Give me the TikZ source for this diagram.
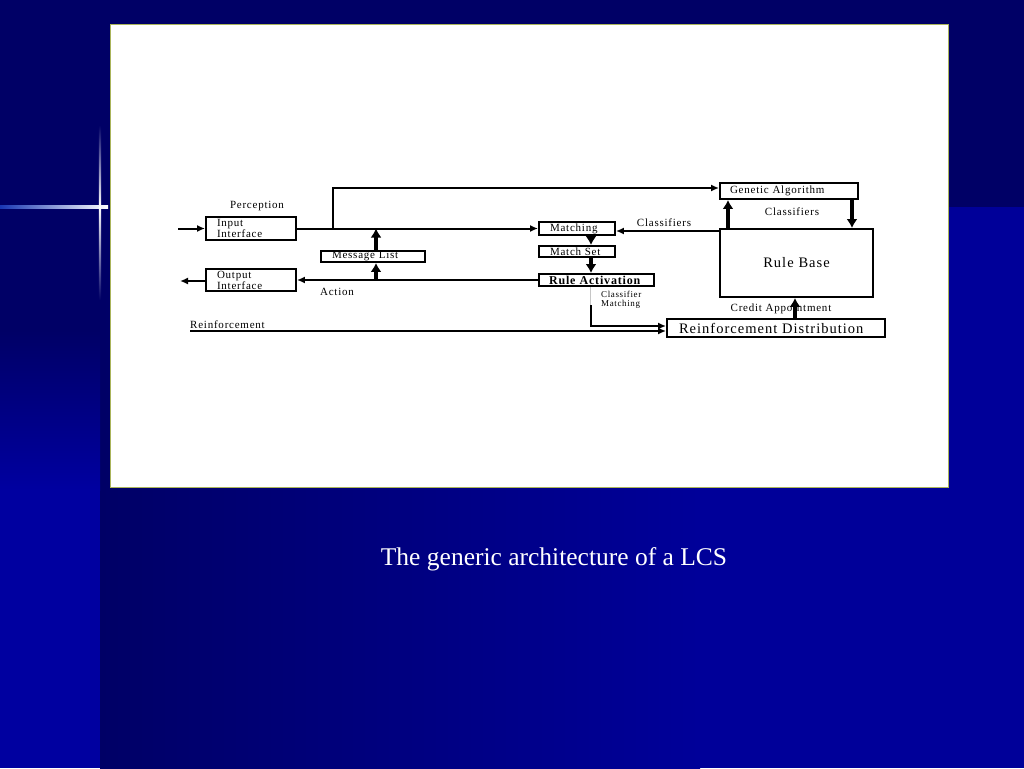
\documentclass[tikz,border=0pt]{standalone}
\usepackage{fontspec}
\setmainfont{Liberation Serif}
\newfontfamily\diag[LetterSpace=7]{Liberation Serif}
\newfontfamily\capfont{Liberation Serif}
\usetikzlibrary{arrows.meta,calc}
\definecolor{navy}{RGB}{0,0,102}
\definecolor{slideblue}{RGB}{0,0,153}
\definecolor{stripblue}{RGB}{0,0,160}
\definecolor{panelrim}{RGB}{170,180,90}
\definecolor{crossblue}{RGB}{40,90,230}
\newcommand\dfont{\diag\fontsize{11}{10}\selectfont}
\newcommand\bigdfont{\diag\fontsize{14.5}{15}\selectfont}
\tikzset{
  lbl/.style={font=\dfont, inner sep=0pt, text=black},
  box/.style n args={3}{draw, line width=1.9pt, minimum width=#1, minimum height=#2,
     text width=#3, inner xsep=11pt, inner ysep=0pt, align=left, font=\dfont},
  arr/.style={line width=2pt, -{Latex[length=8pt,width=7pt]}},
  thk/.style={line width=3.5pt, -{Latex[length=9pt,width=11pt]}},
}
\begin{document}
\begin{tikzpicture}[x=1pt,y=-1pt]
\useasboundingbox (0,0) rectangle (1024,768);
% background
\fill[navy] (0,0) rectangle (1024,768);
\shade[left color=navy, right color=slideblue] (100,207) rectangle (700,768);
\fill[slideblue] (700,207) rectangle (1024,768);
\shade[top color=navy, bottom color=stripblue] (0,330) rectangle (100,490);
\fill[stripblue] (0,490) rectangle (100,768);
% cross
\shade[left color=crossblue!60!navy, right color=white] (0,205.8) rectangle (108,208.2);
\shade[top color=navy, bottom color=white] (98.8,125) rectangle (101.2,207);
\shade[top color=white, bottom color=navy] (98.8,207) rectangle (101.2,300);
% panel
\fill[white, draw=panelrim, line width=1pt] (110,25) rectangle (948,487);

% boxes
\node[box={90pt}{23pt}{68pt}] (inp) at (251,228.5) {Input\\Interface};
\node[box={90pt}{22pt}{68pt}] (outp) at (251,280) {Output\\Interface};
\node[box={104pt}{11pt}{82pt}] (msg) at (373,256.5) {Message List};
\node[box={76pt}{13pt}{54pt}] (match) at (577,228.5) {Matching};
\node[box={76pt}{11pt}{54pt}] (mset) at (577,251.5) {Match Set};
\node[box={115pt}{12pt}{95pt}, inner xsep=10pt, font=\diag\fontsize{12}{12}\selectfont\bfseries] (ract) at (596.5,280) {Rule Activation};
\node[box={138pt}{16pt}{118pt}, inner xsep=10pt] (ga) at (789,191) {Genetic Algorithm};
\node[box={153pt}{68pt}{131pt}, align=center, font=\bigdfont] (rb) at (796.5,263) {Rule Base};
\node[box={218pt}{18pt}{194pt}, inner xsep=12pt, font=\bigdfont] (rd) at (776,328) {Reinforcement Distribution};

% labels
\node[lbl] (lperc) at (257,206) {Perception};
\node[lbl] (lact) at (337,292) {Action};
\node[lbl] (lcls1) at (664,223) {Classifiers};
\node[lbl] (lcls2) at (792,212) {Classifiers};
\node[lbl] (lcred) at (781,309) {Credit Appointment};
\node[lbl, anchor=west, font=\diag\fontsize{9}{9}\selectfont] (lcm1) at (601,294.5) {Classifier};
\node[lbl, anchor=west, font=\diag\fontsize{9}{9}\selectfont] (lcm2) at (601,304.5) {Matching};
\node[lbl, anchor=west] (lrein) at (190,325) {Reinforcement};

% coordinates
\coordinate (inL) at (178,228.5);
\coordinate (outL) at (180,281);
\coordinate (br) at (333,228.5);
\coordinate (gay) at (0,188);
\coordinate (mx) at (376,0);
\coordinate (colx) at (591,0);
\coordinate (clsy) at (0,231);
\coordinate (cm) at (591,305);
\coordinate (rdy1) at (0,326);
\coordinate (reinL) at (190,331);
\coordinate (gx1) at (728,0);
\coordinate (gx2) at (852,0);
\coordinate (rx) at (795,0);

% connectors
\draw[arr] (inL) -- (inp.west);
\draw[arr] (outp.west |- outL) -- (outL);
\draw[arr] (inp.east) -- (match.west);
\draw[arr] (br) |- (ga.west |- gay);
\draw[thk] (mx |- msg.north) -- (mx |- inp.east);
\draw[thk] (mx |- outp.east) -- (mx |- msg.south);
\draw[arr] (ract.west) -- (outp.east);
\draw[thk] (colx |- match.south) -- (colx |- mset.north);
\draw[thk] (colx |- mset.south) -- (colx |- ract.north);
\draw[arr] (rb.west |- clsy) -- (match.east |- clsy);
\draw[thk] (gx1 |- rb.north) -- (gx1 |- ga.south);
\draw[thk] (gx2 |- ga.south) -- (gx2 |- rb.north);
\draw[thk] (rx |- rd.north) -- (rx |- rb.south);
\draw[gray!45, line width=0.6pt, double, double distance=0.8pt] (colx |- ract.south) -- (cm);
\draw[arr, line width=2.4pt] (cm) |- (rd.west |- rdy1);
\draw[arr] (reinL) -- (rd.west |- reinL);

% caption
\node[font=\capfont\fontsize{25.5}{30}\selectfont, text=white] (cap) at (554,559) {The generic architecture of a LCS};
\end{tikzpicture}
\end{document}
